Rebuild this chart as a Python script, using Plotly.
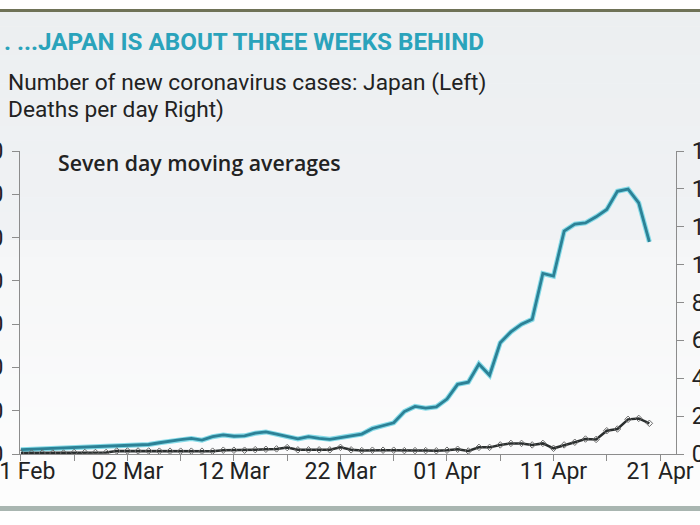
import datetime as dt
import plotly.graph_objects as go

start = dt.date(2020, 2, 21)
dates = [(start + dt.timedelta(days=i)).isoformat() for i in range(60)]

cases = [10, 11, 12, 13, 15, 16, 17, 18, 18, 19,
         20, 21, 22, 26, 30, 33, 36, 32, 40, 44,
         41, 42, 48, 51, 46, 41, 35, 40, 36, 34,
         38, 42, 46, 59, 65, 72, 98, 110, 106, 109,
         127, 161, 166, 208, 182, 257, 282, 300, 311, 417,
         411, 515, 531, 534, 548, 565, 607, 612, 580, 490]

deaths = [0.5, 0.5, 0.5, 0.5, 0.5, 0.8, 0.8, 0.8, 0.8, 1.6,
          1.6, 1.6, 1.6, 1.5, 1.5, 1.5, 1.5, 1.5, 1.5, 2.0,
          2.0, 2.0, 2.3, 2.5, 2.7, 3.4, 2.2, 2.2, 2.2, 2.2,
          3.5, 2.2, 1.8, 2.0, 2.0, 2.0, 1.8, 1.8, 1.8, 1.7,
          2.0, 2.5, 1.6, 3.5, 3.5, 4.8, 5.6, 5.6, 4.8, 5.6,
          3.0, 4.8, 6.2, 7.9, 7.7, 12.3, 13.2, 18.3, 18.8, 16.2]

tick_dates = [(start + dt.timedelta(days=i)).isoformat() for i in range(0, 61, 5)]
tick_labels = ["21 Feb", "", "02 Mar", "", "12 Mar", "", "22 Mar", "",
               "01 Apr", "", "11 Apr", "", "21 Apr"]
left_ticks = list(range(0, 701, 100))
right_ticks = list(range(0, 161, 20))

W, H = 700, 525
L, R, T, B = 20, 676, 151, 454


def px_x(x):
    return (x - L) / (R - L)


def px_y(y):
    return (B - y) / (B - T)


fig = go.Figure()
fig.add_trace(go.Scatter(x=dates, y=cases, mode="lines",
                         line=dict(color="#86dbe8", width=5), hoverinfo="skip"))
fig.add_trace(go.Scatter(x=dates, y=cases, mode="lines",
                         line=dict(color="#2c8196", width=2.8)))
fig.add_trace(go.Scatter(x=dates, y=deaths, mode="lines+markers", yaxis="y2",
                         line=dict(color="#2a2e2e", width=2.5),
                         marker=dict(symbol="diamond-open", size=5,
                                     color="#6a6a6a", line=dict(width=1))))

shapes = []


def lerp(a, b, t):
    return tuple(int(round(a[i] + (b[i] - a[i]) * t)) for i in range(3))


bands = [(12, 240, (236, 239, 241), (240, 242, 244)),
         (240, 507, (245, 246, 247), (253, 253, 253))]
for y0, y1, c0, c1 in bands:
    n = 16
    for k in range(n):
        ya = y0 + (y1 - y0) * k / n
        yb = y0 + (y1 - y0) * (k + 1) / n
        c = lerp(c0, c1, (k + 0.5) / n)
        shapes.append(dict(type="rect", xref="paper", yref="paper",
                           x0=px_x(-5), x1=px_x(705), y0=px_y(yb + 0.5), y1=px_y(ya),
                           fillcolor="rgb(%d,%d,%d)" % c, line=dict(width=0),
                           layer="below"))
shapes.append(dict(type="rect", xref="paper", yref="paper",
                   x0=px_x(-5), x1=px_x(705), y0=px_y(12), y1=px_y(9),
                   fillcolor="#6f7257", line=dict(width=0), layer="below"))
shapes.append(dict(type="rect", xref="paper", yref="paper",
                   x0=px_x(-5), x1=px_x(705), y0=px_y(511), y1=px_y(506),
                   fillcolor="#a9b6b1", line=dict(width=0), layer="below"))

annotations = [
    dict(text="<b>. ...JAPAN IS ABOUT THREE WEEKS BEHIND</b>", x=px_x(2), y=px_y(42),
         xanchor="left", yanchor="middle", showarrow=False,
         font=dict(family="Roboto", size=24.2, color="#2aa3bb")),
    dict(text="Number of new coronavirus cases: Japan (Left)", x=px_x(6), y=px_y(83),
         xanchor="left", yanchor="middle", showarrow=False,
         font=dict(family="Roboto", size=22.7, color="#222222")),
    dict(text="Deaths per day Right)", x=px_x(6), y=px_y(109),
         xanchor="left", yanchor="middle", showarrow=False,
         font=dict(family="Roboto", size=22.7, color="#222222")),
    dict(text="Seven day moving averages", x=px_x(56), y=px_y(162),
         xanchor="left", yanchor="middle", showarrow=False,
         font=dict(family="Open Sans", size=21.3, color="#222222", weight=600)),
]
for a in annotations:
    a.update(xref="paper", yref="paper")

tickfont = dict(family="Roboto", size=23, color="#222222")
axis_common = dict(showgrid=False, zeroline=False, showline=True, linecolor="#8c8c8c",
                   linewidth=1.2, ticks="outside", tickcolor="#8c8c8c",
                   tickfont=tickfont, automargin=False, ticklabeloverflow="allow")

fig.update_layout(
    width=W, height=H,
    margin=dict(l=L, r=W - R, t=T, b=H - B, pad=0),
    paper_bgcolor="#ffffff", plot_bgcolor="rgba(0,0,0,0)",
    showlegend=False,
    shapes=shapes, annotations=annotations,
    xaxis=dict(type="date", range=["2020-02-20 22:00", "2020-04-22 12:00"],
               tickvals=tick_dates, ticktext=tick_labels, ticklen=6,
               ticklabelstandoff=-10, **axis_common),
    yaxis=dict(range=[0, 700], tickvals=left_ticks, ticklen=7, ticklabelstandoff=4,
               **axis_common),
    yaxis2=dict(range=[0, 160], tickvals=right_ticks, overlaying="y", side="right",
                ticklen=7, ticklabelstandoff=3, **axis_common),
)

fig.write_html("out.html")
